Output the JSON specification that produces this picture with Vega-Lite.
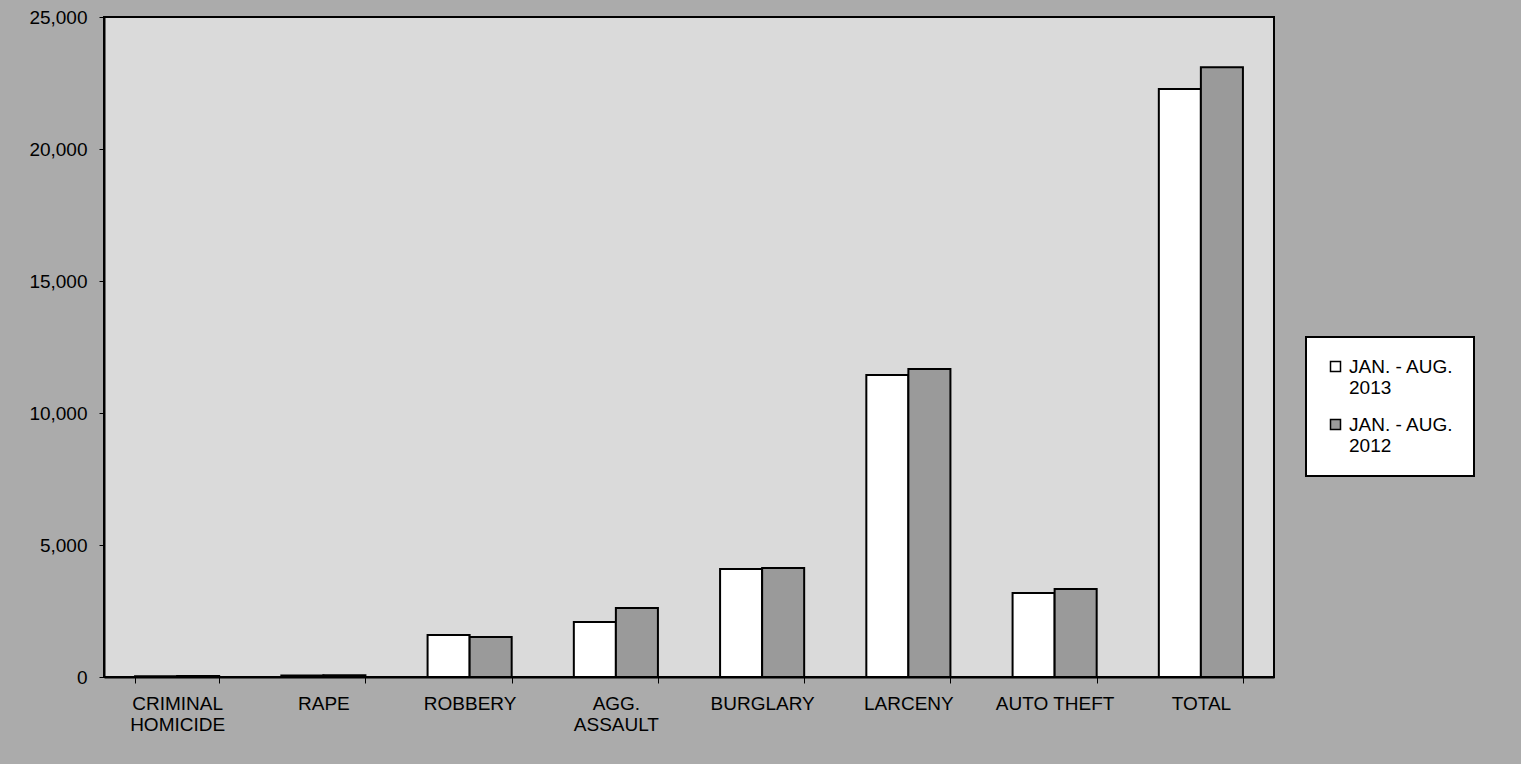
{
  "$schema": "https://vega.github.io/schema/vega-lite/v6.json",
  "width": 1170,
  "height": 660,
  "autosize": {"type": "none"},
  "padding": {"left": 104, "top": 17, "right": 247, "bottom": 87},
  "background": "#ababab",
  "config": {
    "font": "Liberation Sans",
    "view": {"fill": "#dadada", "stroke": "#000000", "strokeWidth": 2}
  },
  "data": {
    "values": [
      {"category": "CRIMINAL HOMICIDE", "period": "2013", "count": 30},
      {"category": "CRIMINAL HOMICIDE", "period": "2012", "count": 35},
      {"category": "RAPE", "period": "2013", "count": 60},
      {"category": "RAPE", "period": "2012", "count": 70},
      {"category": "ROBBERY", "period": "2013", "count": 1590},
      {"category": "ROBBERY", "period": "2012", "count": 1515},
      {"category": "AGG. ASSAULT", "period": "2013", "count": 2085},
      {"category": "AGG. ASSAULT", "period": "2012", "count": 2615},
      {"category": "BURGLARY", "period": "2013", "count": 4090},
      {"category": "BURGLARY", "period": "2012", "count": 4130},
      {"category": "LARCENY", "period": "2013", "count": 11440},
      {"category": "LARCENY", "period": "2012", "count": 11670},
      {"category": "AUTO THEFT", "period": "2013", "count": 3180},
      {"category": "AUTO THEFT", "period": "2012", "count": 3330},
      {"category": "TOTAL", "period": "2013", "count": 22270},
      {"category": "TOTAL", "period": "2012", "count": 23100}
    ]
  },
  "mark": {"type": "bar", "stroke": "#000000", "strokeWidth": 2},
  "encoding": {
    "x": {
      "field": "category",
      "type": "nominal",
      "scale": {
        "domain": ["CRIMINAL HOMICIDE", "RAPE", "ROBBERY", "AGG. ASSAULT", "BURGLARY", "LARCENY", "AUTO THEFT", "TOTAL"],
        "paddingInner": 0.425,
        "paddingOuter": 0.2125
      },
      "axis": {
        "title": null,
        "labelAngle": 0,
        "labelFontSize": 19,
        "labelColor": "#000000",
        "labelPadding": 11,
        "labelLineHeight": 21,
        "labelExpr": "datum.label == 'CRIMINAL HOMICIDE' ? ['CRIMINAL', 'HOMICIDE'] : datum.label == 'AGG. ASSAULT' ? ['AGG.', 'ASSAULT'] : datum.label",
        "tickBand": "extent",
        "tickSize": 6,
        "tickColor": "#000000",
        "domainColor": "#000000",
        "domainWidth": 2
      }
    },
    "xOffset": {
      "field": "period",
      "type": "nominal",
      "scale": {"domain": ["2013", "2012"]}
    },
    "y": {
      "field": "count",
      "type": "quantitative",
      "scale": {"domain": [0, 25000], "nice": false},
      "axis": {
        "title": null,
        "values": [0, 5000, 10000, 15000, 20000, 25000],
        "format": ",d",
        "grid": false,
        "labelFontSize": 19,
        "labelColor": "#000000",
        "labelPadding": 12,
        "tickSize": 5,
        "tickColor": "#000000",
        "domainColor": "#000000",
        "domainWidth": 2
      }
    },
    "fill": {
      "field": "period",
      "type": "nominal",
      "scale": {"domain": ["2013", "2012"], "range": ["#ffffff", "#9a9a9a"]},
      "legend": {
        "title": null,
        "orient": "none",
        "legendX": 1202,
        "legendY": 320,
        "fillColor": "#ffffff",
        "strokeColor": "#000000",
        "padding": 20,
        "symbolType": "square",
        "symbolSize": 100,
        "symbolStrokeColor": "#000000",
        "symbolStrokeWidth": 1.5,
        "labelFontSize": 19,
        "labelColor": "#000000",
        "labelLineHeight": 20,
        "labelOffset": 4,
        "rowPadding": 17,
        "labelExpr": "['JAN. - AUG.', ' ' + datum.label]",
        "encode": {"legend": {"update": {"strokeWidth": {"value": 2}}}}
      }
    }
  }
}
